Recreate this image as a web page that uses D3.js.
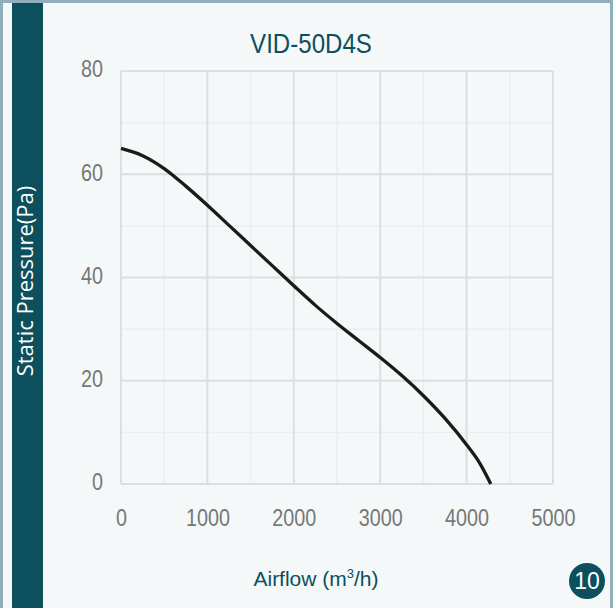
<!DOCTYPE html>
<html>
<head>
<meta charset="utf-8">
<script src="https://cdn.jsdelivr.net/npm/d3@7/dist/d3.min.js"></script>
<style>
  html, body { margin: 0; padding: 0; background: #f4f8f9; }
  svg { display: block; }
</style>
</head>
<body>
<svg id="chart" width="613" height="608"></svg>
<script>
// ---- data ----
const title = "VID-50D4S";
const airflow = [0, 250, 500, 750, 1000, 1250, 1500, 1750, 2000, 2250, 2500, 2750, 3000, 3250, 3500, 3750, 4000, 4150, 4280];
const pressure = [65.0, 63.6, 61.1, 57.7, 54.0, 50.1, 46.2, 42.3, 38.4, 34.6, 31.1, 27.8, 24.5, 21.0, 17.1, 12.7, 7.6, 4.1, 0.0];
const xTicks = [0, 1000, 2000, 3000, 4000, 5000];
const yTicks = [0, 20, 40, 60, 80];
const xMinor = [500, 1500, 2500, 3500, 4500];
const yMinor = [10, 30, 50, 70];
const yLabel = "Static Pressure(Pa)";
const pageNumber = "10";

const W = 613, H = 608;
const teal = "#0c4f5d";
const svg = d3.select("#chart");

// background + frame
svg.append("rect").attr("x", 0).attr("y", 0).attr("width", W).attr("height", H).attr("fill", "#8fb0bb");
svg.append("rect").attr("x", 3).attr("y", 3).attr("width", W - 6).attr("height", H - 3).attr("fill", "#f4f8f9");
svg.append("rect").attr("x", 12).attr("y", 3).attr("width", 31).attr("height", H - 3).attr("fill", teal);

const x = d3.scaleLinear().domain([0, 5000]).range([121, 553]);
const y = d3.scaleLinear().domain([0, 80]).range([484, 71]);

const g = svg.append("g");

// minor grid
g.selectAll(".xm").data(xMinor).join("line")
  .attr("x1", d => x(d)).attr("x2", d => x(d)).attr("y1", y(80)).attr("y2", y(0))
  .attr("stroke", "#ebeeef").attr("stroke-width", 1.5);
g.selectAll(".ym").data(yMinor).join("line")
  .attr("x1", x(0)).attr("x2", x(5000)).attr("y1", d => y(d)).attr("y2", d => y(d))
  .attr("stroke", "#ebeeef").attr("stroke-width", 1.5);
// major grid
g.selectAll(".xg").data(xTicks).join("line")
  .attr("x1", d => x(d)).attr("x2", d => x(d)).attr("y1", y(80)).attr("y2", y(0))
  .attr("stroke", "#dcdfe0").attr("stroke-width", 2);
g.selectAll(".yg").data(yTicks).join("line")
  .attr("x1", x(0)).attr("x2", x(5000)).attr("y1", d => y(d)).attr("y2", d => y(d))
  .attr("stroke", "#dcdfe0").attr("stroke-width", 2);

// axes tick labels via d3 axes
const font = "'Liberation Sans', Arial, sans-serif";
const sx = 0.86; // horizontal condensing of the narrow face used in the reference
const xAxis = svg.append("g").attr("transform", `translate(0,${y(0)})`)
  .call(d3.axisBottom(x).tickValues(xTicks).tickSize(0).tickPadding(26).tickFormat(d3.format("d")));
const yAxis = svg.append("g").attr("transform", `translate(${x(0)},0)`)
  .call(d3.axisLeft(y).tickValues(yTicks).tickSize(0).tickPadding(18).tickFormat(d3.format("d")));
[xAxis, yAxis].forEach(a => {
  a.select(".domain").remove();
  a.selectAll("text").attr("fill", "#777777").style("font-family", font).style("font-size", "23px");
});
yAxis.selectAll("text").attr("dy", "0.25em").attr("x", -18 / sx).attr("transform", `scale(${sx},1)`);
xAxis.selectAll("text").attr("dy", "0.71em").attr("transform", `scale(${sx},1)`);

// curve
const line = d3.line().x((d, i) => x(airflow[i])).y(d => y(d)).curve(d3.curveMonotoneX);
svg.append("path").datum(pressure).attr("d", line)
  .attr("fill", "none").attr("stroke", "#1c1a1a").attr("stroke-width", 3.3).attr("stroke-linejoin", "round");

// title
svg.append("text").attr("transform", `translate(311,53) scale(${sx},1)`).attr("text-anchor", "middle")
  .attr("fill", teal).style("font-family", font).style("font-size", "28px").text(title);

// x axis title
const xt = svg.append("text").attr("x", 316).attr("y", 586).attr("text-anchor", "middle")
  .attr("fill", teal).style("font-family", font).style("font-size", "21px");
xt.append("tspan").text("Airflow  (m");
xt.append("tspan").attr("dy", -8).style("font-size", "13px").text("3");
xt.append("tspan").attr("dy", 8).text("/h)");

// y axis title
svg.append("text").attr("transform", "translate(33,281) rotate(-90)").attr("text-anchor", "middle")
  .attr("fill", "#ffffff").style("font-family", "'Open Sans', sans-serif").style("font-size", "22px").text(yLabel);

// page badge
svg.append("circle").attr("cx", 587).attr("cy", 581).attr("r", 18).attr("fill", teal);
svg.append("text").attr("x", 587).attr("y", 589).attr("text-anchor", "middle")
  .attr("fill", "#ffffff").style("font-family", font).style("font-size", "23px").text(pageNumber);
</script>
</body>
</html>
